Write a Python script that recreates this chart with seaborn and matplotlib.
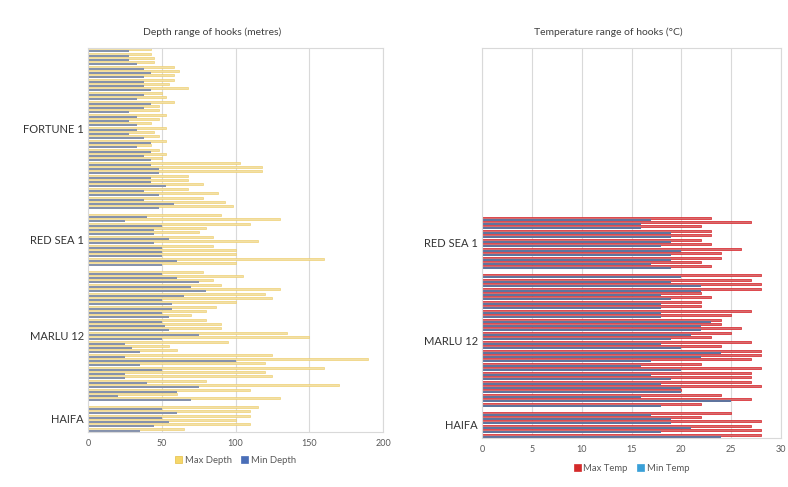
import copy
import matplotlib
matplotlib.use("Agg")
import matplotlib.pyplot as plt
import pandas as pd
import seaborn as sns

# ---------------- data ----------------
sites = ["FORTUNE 1", "RED SEA 1", "MARLU 12", "HAIFA"]

fortune_max_depth = [43, 43, 45, 45, 58, 62, 58, 58, 55, 68, 50, 53, 58, 48, 48, 53, 48, 43, 53, 45,
                     48, 53, 43, 48, 53, 50, 103, 118, 118, 68, 68, 78, 68, 88, 78, 93, 98]
fortune_min_depth = [28, 28, 28, 33, 38, 43, 38, 38, 38, 43, 38, 33, 43, 38, 28, 33, 28, 33, 33, 28,
                     38, 43, 33, 43, 38, 43, 43, 48, 48, 43, 43, 53, 38, 48, 38, 58, 48]
redsea_max_depth = [90, 130, 110, 80, 75, 85, 115, 85, 100, 100, 160, 100]
redsea_min_depth = [40, 25, 50, 45, 45, 55, 45, 50, 50, 50, 60, 50]
marlu_max_depth = [78, 105, 85, 90, 130, 120, 125, 100, 87, 80, 70, 80, 90, 90, 135, 150, 95, 55, 60, 125,
                   190, 120, 160, 120, 125, 80, 170, 110, 60, 130]
marlu_min_depth = [50, 60, 75, 70, 80, 65, 50, 57, 57, 50, 55, 50, 52, 55, 75, 50, 25, 30, 35, 25,
                   100, 35, 50, 25, 25, 40, 75, 60, 20, 70]
haifa_max_depth = [115, 110, 110, 100, 110, 65]
haifa_min_depth = [50, 60, 50, 55, 45, 35]

redsea_max_temp = [23, 27, 22, 23, 23, 22, 23, 26, 24, 24, 22, 23]
redsea_min_temp = [17, 16, 16, 19, 19, 19, 18, 20, 19, 19, 17, 19]
marlu_max_temp = [28, 27, 28, 28, 22, 23, 22, 22, 27, 25, 24, 24, 26, 25, 23, 27, 24, 28, 28, 27,
                  22, 28, 27, 27, 27, 28, 20, 24, 27, 22]
marlu_min_temp = [20, 19, 22, 22, 18, 19, 18, 18, 18, 18, 23, 22, 22, 21, 19, 18, 20, 24, 22, 17,
                  16, 20, 17, 19, 18, 20, 20, 16, 25, 18]
haifa_max_temp = [25, 22, 28, 27, 28, 28]
haifa_min_temp = [17, 19, 19, 21, 18, 24]

depth = {
    "FORTUNE 1": (fortune_max_depth, fortune_min_depth),
    "RED SEA 1": (redsea_max_depth, redsea_min_depth),
    "MARLU 12": (marlu_max_depth, marlu_min_depth),
    "HAIFA": (haifa_max_depth, haifa_min_depth),
}
temp = {
    "RED SEA 1": (redsea_max_temp, redsea_min_temp),
    "MARLU 12": (marlu_max_temp, marlu_min_temp),
    "HAIFA": (haifa_max_temp, haifa_min_temp),
}

# ---------------- row order (with a blank row between sites) ----------------
order, centers = [], {}
for i, s in enumerate(sites):
    n = len(depth[s][0])
    start = len(order)
    order += [f"{s} #{k + 1}" for k in range(n)]
    centers[s] = start + (n - 1) / 2
    if i < len(sites) - 1:
        order.append(f"gap {i}")

def long_table(d, names):
    recs = []
    for s, (mx, mn) in d.items():
        for k, (a, b) in enumerate(zip(mx, mn)):
            recs.append((f"{s} #{k + 1}", names[0], a))
            recs.append((f"{s} #{k + 1}", names[1], b))
    return pd.DataFrame(recs, columns=["row", "series", "value"])

dfd = long_table(depth, ["Max Depth", "Min Depth"])
dft = long_table(temp, ["Max Temp", "Min Temp"])

# ---------------- figure ----------------
sns.set_theme(style="white")
plt.rcParams["font.family"] = ["Lato", "DejaVu Sans"]

fig = plt.figure(figsize=(7.88, 4.87), dpi=100)
axL = fig.add_axes([88 / 788, 1 - 432 / 487, 295 / 788, 384 / 487])
axR = fig.add_axes([482 / 788, 1 - 438 / 487, 299 / 788, 390 / 487])

grid_c = "#D9D9D9"

sns.barplot(data=dfd, y="row", x="value", hue="series", order=order,
            hue_order=["Max Depth", "Min Depth"],
            palette={"Max Depth": "#FFE699", "Min Depth": "#7F8FB3"},
            orient="h", width=0.9, errorbar=None, linewidth=0, ax=axL)
for p in axL.containers[0]:
    p.set_edgecolor("#EDC95E")
    p.set_linewidth(0.4)

sns.barplot(data=dft, y="row", x="value", hue="series", order=order,
            hue_order=["Max Temp", "Min Temp"],
            palette={"Max Temp": "#E85A5C", "Min Temp": "#5570A8"},
            orient="h", width=0.9, errorbar=None, linewidth=0, ax=axR)
for p in axR.containers[0]:
    p.set_edgecolor("#D81E24")
    p.set_linewidth(0.5)

for ax, xmax, step, labs in [(axL, 200, 50, sites), (axR, 30, 5, list(temp.keys()))]:
    ax.set_xlim(0, xmax)
    ax.set_xticks(range(0, xmax + 1, step))
    ax.set_yticks([centers[s] for s in labs])
    ax.set_yticklabels(labs)
    ax.set_xlabel("")
    ax.set_ylabel("")
    ax.grid(axis="x", color=grid_c, linewidth=0.8)
    ax.grid(axis="y", visible=False)
    ax.set_axisbelow(True)
    for sp in ax.spines.values():
        sp.set_visible(True)
        sp.set_color(grid_c)
        sp.set_linewidth(0.8)
    ax.tick_params(axis="x", length=0, labelsize=6.5, labelcolor="#595959", pad=5)
    ax.tick_params(axis="y", length=0, labelsize=8, labelcolor="#333333", pad=3)
    if ax.get_legend() is not None:
        ax.get_legend().remove()

legend_colors = {"Max Depth": ("#F5D76A", "#E5BE45"), "Min Depth": ("#4A6EB8", "#4A6EB8"),
                 "Max Temp": ("#D42A2A", "#D42A2A"), "Min Temp": ("#3AA0D8", "#3AA0D8")}

def add_legend(ax, y):
    hs, ls = ax.get_legend_handles_labels()
    new = []
    for h, l in zip(hs, ls):
        h2 = copy.copy(h)
        h2.set_facecolor(legend_colors[l][0])
        h2.set_edgecolor(legend_colors[l][1])
        h2.set_linewidth(0.5)
        new.append(h2)
    ax.legend(new, ls, loc="upper center", bbox_to_anchor=(0.5, y), ncol=2, frameon=False,
              fontsize=6.8, handlelength=0.7, handleheight=0.7, handletextpad=0.3,
              columnspacing=1.0, labelcolor="#595959")

add_legend(axL, -0.04)
add_legend(axR, -0.045)

fig.text(212 / 788, 1 - 32 / 487, "Depth range of hooks (metres)", ha="center", va="center",
         fontsize=7.5, color="#404040")
fig.text(608 / 788, 1 - 32 / 487, "Temperature range of hooks (°C)", ha="center", va="center",
         fontsize=7.5, color="#404040")

fig.savefig("out.png", dpi=100, facecolor="white")
